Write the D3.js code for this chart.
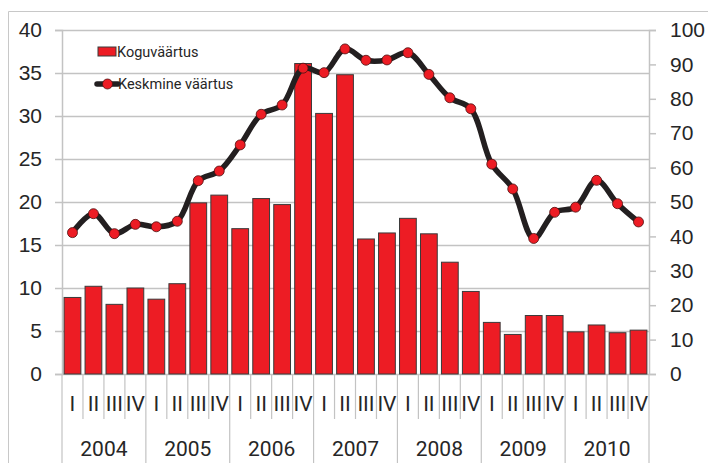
<!DOCTYPE html>
<html>
<head>
<meta charset="utf-8">
<script src="https://cdn.jsdelivr.net/npm/d3@7"></script>
<style>
  body { margin: 0; background: #fff; }
  svg { display: block; font-family: Roboto, "Noto Sans", sans-serif; }
  .tick text { fill: #262626; }
</style>
</head>
<body>
<svg id="chart" width="708" height="463"></svg>
<script>
// data
const years = ['2004', '2005', '2006', '2007', '2008', '2009', '2010'];
const quarters = ['I', 'II', 'III', 'IV'];
const koguvaartus = [
  8.9, 10.2, 8.1, 10.0,
  8.7, 10.5, 19.9, 20.8,
  16.9, 20.4, 19.7, 36.1,
  30.3, 34.8, 15.7, 16.4,
  18.1, 16.3, 13.0, 9.6,
  6.0, 4.6, 6.8, 6.8,
  4.9, 5.7, 4.8, 5.1
];
const keskmine = [
  41.1, 46.6, 40.8, 43.5,
  42.8, 44.4, 56.2, 59.0,
  66.6, 75.5, 78.2, 88.9,
  87.6, 94.5, 91.2, 91.3,
  93.4, 87.1, 80.3, 77.1,
  61.0, 53.8, 39.4, 47.0,
  48.5, 56.3, 49.5, 44.2
];
const leftTicks = d3.range(0, 41, 5);
const rightTicks = d3.range(0, 101, 10);

const svg = d3.select('#chart');
const margin = {top: 30, right: 59, bottom: 89, left: 62};
const width = +svg.attr('width');
const height = +svg.attr('height');
const innerWidth = width - margin.left - margin.right;
const innerHeight = height - margin.top - margin.bottom;

const keys = [];
years.forEach(y => quarters.forEach(q => keys.push(y + '-' + q)));
const data = keys.map((k, i) => ({
  key: k, year: k.split('-')[0], q: k.split('-')[1],
  total: koguvaartus[i], avg: keskmine[i]
}));

const gridColor = '#c3c3c3';
const textColor = '#262626';
const fontSize = 21;

// outer frame (cropped on right and bottom)
svg.append('path')
  .attr('d', `M8.5,${height} V11.5 H${width}`)
  .attr('fill', 'none')
  .attr('stroke', '#c8c8c8');

const g = svg.append('g')
  .attr('transform', `translate(${margin.left},${margin.top})`);

const xScale = d3.scaleBand()
  .domain(keys)
  .range([0, innerWidth])
  .paddingInner(0.2)
  .paddingOuter(0.1);

const yLeft = d3.scaleLinear().domain([0, 40]).range([innerHeight, 0]);
const yRight = d3.scaleLinear().domain([0, 100]).range([innerHeight, 0]);

// gridlines
g.append('g').selectAll('line').data(leftTicks)
  .enter().append('line')
    .attr('x1', 0).attr('x2', innerWidth)
    .attr('y1', d => Math.round(yLeft(d)) + 0.5)
    .attr('y2', d => Math.round(yLeft(d)) + 0.5)
    .attr('stroke', gridColor)
    .attr('stroke-width', 1.5);

// left axis
const leftAxisG = g.append('g')
  .call(d3.axisLeft(yLeft).tickValues(leftTicks).tickSize(7).tickPadding(13));
leftAxisG.select('.domain').attr('stroke', gridColor).attr('stroke-width', 1.5);
leftAxisG.selectAll('.tick line').attr('stroke', gridColor).attr('stroke-width', 1.5);
leftAxisG.selectAll('.tick text').attr('font-size', fontSize);

// right axis
const rightAxisG = g.append('g')
  .attr('transform', `translate(${innerWidth},0)`)
  .call(d3.axisRight(yRight).tickValues(rightTicks).tickSize(7).tickPadding(14));
rightAxisG.select('.domain').attr('stroke', gridColor).attr('stroke-width', 1.5);
rightAxisG.selectAll('.tick line').attr('stroke', gridColor).attr('stroke-width', 1.5);
rightAxisG.selectAll('.tick text').attr('font-size', fontSize);

// bottom separators
const step = xScale.step();
const leftEdge = k => xScale(k) - step * xScale.paddingInner() / 2;
const bottomG = g.append('g').attr('transform', `translate(0,${innerHeight})`);
bottomG.selectAll('line.sep').data(keys.concat(['end']))
  .enter().append('line')
    .attr('class', 'sep')
    .attr('x1', (d, i) => i < keys.length ? leftEdge(d) : innerWidth)
    .attr('x2', (d, i) => i < keys.length ? leftEdge(d) : innerWidth)
    .attr('y1', 0)
    .attr('y2', (d, i) => i % 4 === 0 ? margin.bottom : 45)
    .attr('stroke', gridColor)
    .attr('stroke-width', 1.2);

bottomG.selectAll('text.q').data(data)
  .enter().append('text')
    .attr('class', 'q')
    .attr('x', d => xScale(d.key) + xScale.bandwidth() / 2)
    .attr('y', 37)
    .attr('text-anchor', 'middle')
    .attr('font-size', fontSize)
    .attr('fill', textColor)
    .text(d => d.q);

bottomG.selectAll('text.year').data(years)
  .enter().append('text')
    .attr('class', 'year')
    .attr('x', y => leftEdge(y + '-I') + step * 2)
    .attr('y', 82)
    .attr('text-anchor', 'middle')
    .attr('font-size', fontSize)
    .attr('fill', textColor)
    .text(y => y);

// bars
g.selectAll('rect.bar').data(data)
  .enter().append('rect')
    .attr('class', 'bar')
    .attr('x', d => xScale(d.key))
    .attr('y', d => yLeft(d.total))
    .attr('width', xScale.bandwidth())
    .attr('height', d => innerHeight - yLeft(d.total))
    .attr('fill', '#ed1c24')
    .attr('stroke', '#3a3a3a')
    .attr('stroke-width', 1);

// smoothed line
const line = d3.line()
  .x(d => xScale(d.key) + xScale.bandwidth() / 2)
  .y(d => yRight(d.avg))
  .curve(d3.curveCatmullRom.alpha(0.5));

g.append('path')
  .datum(data)
  .attr('d', line)
  .attr('fill', 'none')
  .attr('stroke', '#231f20')
  .attr('stroke-width', 5.5)
  .attr('stroke-linejoin', 'round');

g.selectAll('circle.pt').data(data)
  .enter().append('circle')
    .attr('class', 'pt')
    .attr('cx', d => xScale(d.key) + xScale.bandwidth() / 2)
    .attr('cy', d => yRight(d.avg))
    .attr('r', 5)
    .attr('fill', '#ed1c24')
    .attr('stroke', '#4a1010')
    .attr('stroke-width', 0.8);

// legend
const legend = svg.append('g');
legend.append('rect')
  .attr('x', 98).attr('y', 47).attr('width', 18).attr('height', 9)
  .attr('fill', '#ed1c24').attr('stroke', '#3a3a3a').attr('stroke-width', 1);
legend.append('text')
  .attr('x', 117).attr('y', 56.5)
  .attr('font-size', 14.5).attr('fill', textColor)
  .text('Koguväärtus');
legend.append('line')
  .attr('x1', 97).attr('x2', 118).attr('y1', 84).attr('y2', 84)
  .attr('stroke', '#231f20').attr('stroke-width', 5.5).attr('stroke-linecap', 'round');
legend.append('circle')
  .attr('cx', 107.5).attr('cy', 84).attr('r', 5)
  .attr('fill', '#ed1c24').attr('stroke', '#4a1010').attr('stroke-width', 0.8);
legend.append('text')
  .attr('x', 118).attr('y', 89)
  .attr('font-size', 14.5).attr('fill', textColor)
  .text('Keskmine väärtus');
</script>
</body>
</html>
